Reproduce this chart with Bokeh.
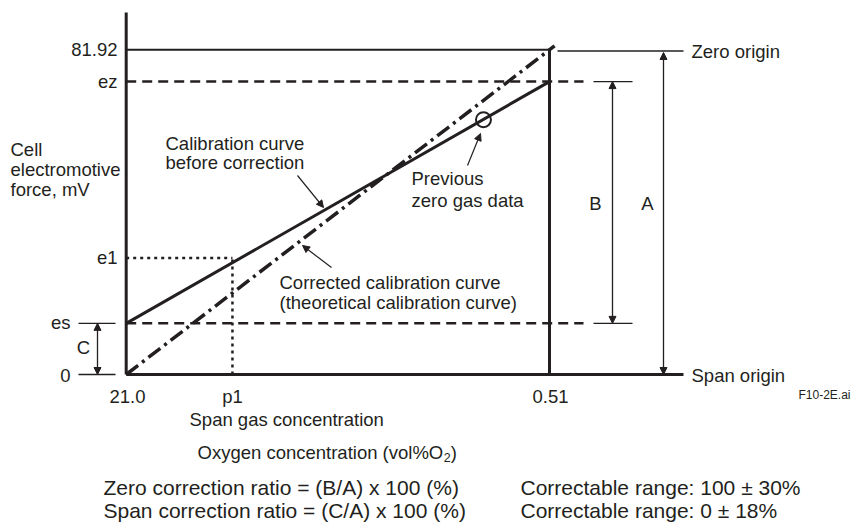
from bokeh.plotting import figure
from bokeh.models import Range1d, Arrow, NormalHead, ColumnDataSource
from bokeh.embed import file_html
from bokeh.resources import INLINE
from bokeh.core.properties import value

# ---------------- data ----------------
# relative position along the concentration axis: span gas (21.0) -> zero gas (0.51)
x_tick_labels = ["21.0", "p1", "0.51"]
x_tick_pos = [0.0, 0.251, 1.0]
# cell electromotive force (mV)
y_tick_labels = ["0", "es", "e1", "ez", "81.92"]
y_tick_vals = [0.0, 12.9, 29.4, 73.9, 81.92]
prev_zero_x = [0.844]
prev_zero_y = [64.3]

x_span, x_p1, x_zero = x_tick_pos
e_0, e_s, e_1, e_z, e_max = y_tick_vals

INK = "#231f20"
FONT = value("Liberation Sans")
W, H = 852, 527

# ---------------- layout helpers (page pixel -> data) ----------------
def dx(px):
    return (px - 125.7) / 423.3

def dy(py):
    return (374.0 - py) / 3.9636

p = figure(width=W, height=H, output_backend="svg", toolbar_location=None,
           x_axis_type=None, y_axis_type=None,
           x_range=Range1d(dx(0), dx(W)), y_range=Range1d(dy(H), dy(0)),
           min_border=0, min_border_left=0, min_border_right=0,
           min_border_top=0, min_border_bottom=0)
p.outline_line_color = None
p.xgrid.visible = False
p.ygrid.visible = False
p.background_fill_color = "white"
p.border_fill_color = "white"

# axes
p.line([x_span, x_span], [e_0, dy(12)], line_color=INK, line_width=3)
p.line([x_span, dx(683)], [e_0, e_0], line_color=INK, line_width=3)
# box: 81.92 line and zero-gas vertical
p.line([x_span, x_zero], [e_max, e_max], line_color=INK, line_width=2)
p.line([x_zero, x_zero], [e_0, e_max], line_color=INK, line_width=3)
# zero origin reference line
p.line([dx(557), dx(683)], [dy(50.5), dy(50.5)], line_color=INK, line_width=1.3)

# dashed ez / es
for e in (e_z, e_s):
    p.line([x_span, dx(583)], [e, e], line_color=INK, line_width=2.5, line_dash="10 6")
    p.line([dx(593), dx(632)], [e, e], line_color=INK, line_width=1.3)
# left ticks for es and 0
for e in (e_s, e_0):
    p.line([dx(78), dx(115)], [e, e], line_color=INK, line_width=1.3)

# dotted p1 / e1
p.line([x_span, x_p1], [e_1, e_1], line_color=INK, line_width=2.5, line_dash="3 4")
p.line([x_p1, x_p1], [e_0, e_1], line_color=INK, line_width=2.5, line_dash="3 4")

# theoretical calibration curve (dash-dot), slightly overshooting the box corner
over = 1.012
p.line([x_span, x_zero * over], [e_0, e_max * over], line_color=INK, line_width=3.5,
       line_dash="15 5 3 5")
# calibration curve before correction
p.line([x_span, x_zero], [e_s, e_z], line_color=INK, line_width=3)

# previous zero gas data
p.scatter(prev_zero_x, prev_zero_y, size=15, marker="circle", fill_color=None,
          line_color=INK, line_width=2)

# dimension arrows
def dim_arrow(x, y0, y1):
    p.add_layout(Arrow(x_start=x, y_start=y0, x_end=x, y_end=y1,
                       start=NormalHead(size=7, fill_color=INK, line_color=INK),
                       end=NormalHead(size=7, fill_color=INK, line_color=INK),
                       line_color=INK, line_width=1.3))

dim_arrow(dx(97), e_0, e_s)        # C
dim_arrow(dx(612), e_s, e_z)       # B
dim_arrow(dx(663), e_0, dy(52))    # A

# leader arrows
def leader(x0, y0, x1, y1):
    p.add_layout(Arrow(x_start=dx(x0), y_start=dy(y0), x_end=dx(x1), y_end=dy(y1),
                       end=NormalHead(size=7, fill_color=INK, line_color=INK),
                       line_color=INK, line_width=1.2))

leader(297, 175, 323, 207)
leader(467, 165, 480, 133)
leader(331, 267, 302, 245)

# ---------------- texts ----------------
def texts(items, align, size="18.5px"):
    src = ColumnDataSource(dict(x=[dx(a) for _, a, _ in items],
                                y=[dy(b) for _, _, b in items],
                                t=[s for s, _, _ in items]))
    p.text(x="x", y="y", text="t", source=src, text_align=align,
           text_baseline="middle", text_font=FONT, text_font_size=size,
           text_color=INK)

# y tick labels
texts([(y_tick_labels[4], 117, 49), (y_tick_labels[3], 117, 81),
       (y_tick_labels[2], 117, 257), (y_tick_labels[1], 70, 322),
       (y_tick_labels[0], 70, 375)], "right")
# x tick labels
texts([(x_tick_labels[0], 127, 396), (x_tick_labels[1], 232, 396),
       (x_tick_labels[2], 550, 396)], "center")
texts([("C", 83, 347), ("B", 595, 203), ("A", 647, 203)], "center")

texts([("Cell", 10, 149), ("electromotive", 10, 169), ("force, mV", 10, 189),
       ("Calibration curve", 165, 143), ("before correction", 165, 162),
       ("Previous", 411, 178), ("zero gas data", 411, 200),
       ("Corrected calibration curve", 279, 282),
       ("(theoretical calibration curve)", 279, 302),
       ("Zero origin", 691, 51), ("Span origin", 691, 375),
       ("Span gas concentration", 189, 419)], "left")

fs_ox = 18.5
texts([("Oxygen concentration (vol%O", 197, 452)], "left", size=f"{fs_ox}px")
# subscript 2 and closing parenthesis
sub_x = 197 + 13.283 * fs_ox
texts([("2", sub_x + 0.5, 457)], "left", size="12.5px")
texts([(")", sub_x + 0.5 + 0.556 * 12.5, 452)], "left", size=f"{fs_ox}px")

fs_small = 21
texts([("Zero correction ratio = (B/A) x 100 (%)", 103, 487),
       ("Span correction ratio = (C/A) x 100 (%)", 103, 510),
       ("Correctable range: 100 \u00b1 30%", 520, 487),
       ("Correctable range: 0 \u00b1 18%", 520, 510)], "left", size=f"{fs_small}px")

texts([("F10-2E.ai", 850, 394)], "right", size="12px")

open("out.html", "w").write(file_html(p, INLINE))
